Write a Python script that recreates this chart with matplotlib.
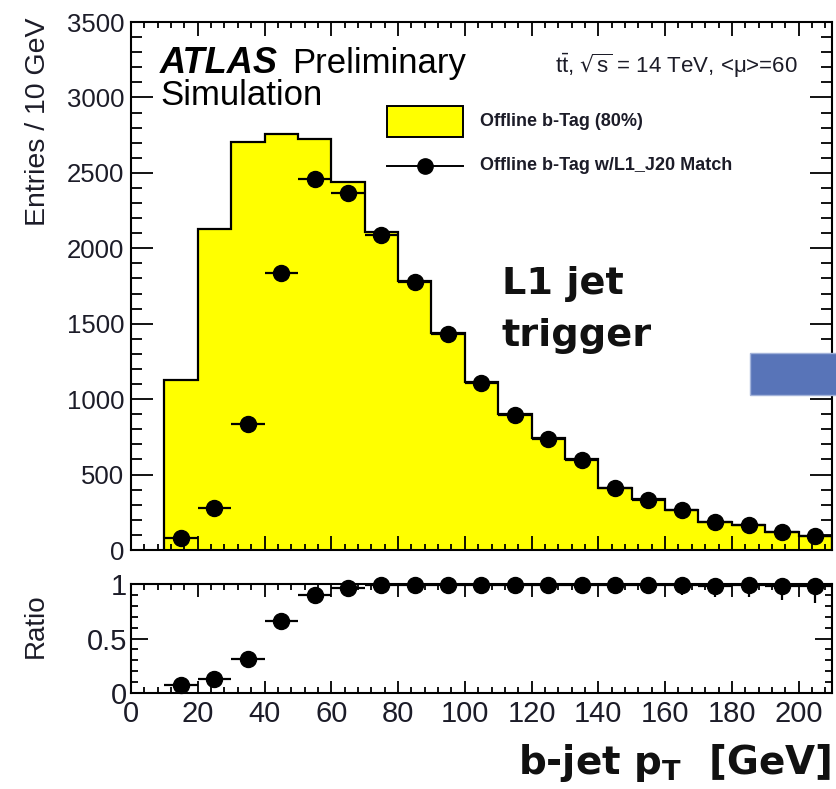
import numpy as np
import matplotlib.pyplot as plt
from matplotlib.patches import Rectangle
from matplotlib.lines import Line2D
from matplotlib.ticker import MultipleLocator, FixedLocator, FixedFormatter

plt.rcParams['font.family'] = ['Liberation Sans', 'DejaVu Sans']
plt.rcParams['mathtext.default'] = 'regular'

# b-jet pT bins (GeV)
bin_edges = [10, 20, 30, 40, 50, 60, 70, 80, 90, 100, 110,
             120, 130, 140, 150, 160, 170, 180, 190, 200, 210]
bin_centers = [15, 25, 35, 45, 55, 65, 75, 85, 95, 105,
               115, 125, 135, 145, 155, 165, 175, 185, 195, 205]

# offline b-tagged jets (80% WP)
offline = [1130, 2130, 2705, 2756, 2727, 2439, 2110, 1782, 1439, 1113,
           901, 741, 602, 414, 336, 266, 188, 166, 122, 93]
# offline b-tagged jets matched to L1_J20
matched = [77, 281, 837, 1837, 2461, 2364, 2090, 1775, 1434, 1110,
           895, 738, 598, 412, 334, 263, 185, 164, 120, 91]
# matched / offline
ratio = [0.07, 0.13, 0.31, 0.665, 0.90, 0.965, 0.99, 0.995, 0.995, 0.995,
         0.995, 0.995, 0.99, 0.995, 0.995, 0.99, 0.985, 0.99, 0.985, 0.98]
ratio_err = [0.03, 0.02, 0.02, 0.02, 0.02, 0.02, 0.03, 0.03, 0.04, 0.04,
             0.05, 0.05, 0.06, 0.07, 0.08, 0.09, 0.10, 0.11, 0.13, 0.15]

W, H = 837, 789
def fx(x): return x / W
def fy(y): return 1 - y / H

txt = '#1c1c28'
fig = plt.figure(figsize=(W / 100, H / 100), dpi=100)
ax = fig.add_axes([fx(131), fy(550), fx(832) - fx(131), fy(22) - fy(550)])
rax = fig.add_axes([fx(131), fy(693), fx(832) - fx(131), fy(584) - fy(693)])

# main panel
ax.stairs(offline, bin_edges, fill=True, facecolor='#ffff00',
          edgecolor='black', linewidth=1.6, zorder=1)
ax.errorbar(bin_centers, matched, xerr=5, fmt='o', color='black',
            markersize=11.5, elinewidth=1.6, capsize=0, zorder=3)
ax.set_xlim(0, 210)
ax.set_ylim(0, 3500)
ax.xaxis.set_major_locator(MultipleLocator(20))
ax.xaxis.set_minor_locator(MultipleLocator(4))
ax.yaxis.set_major_locator(MultipleLocator(500))
ax.yaxis.set_minor_locator(MultipleLocator(100))
ax.tick_params(axis='both', which='both', direction='in', top=True, right=True,
               labelbottom=False, colors='black', labelcolor=txt, labelsize=18.5)
ax.tick_params(axis='y', which='major', length=16, width=1.3, pad=5)
ax.tick_params(axis='y', which='minor', length=8, width=1.3)
ax.tick_params(axis='x', which='major', length=10, width=1.3)
ax.tick_params(axis='x', which='minor', length=4, width=1.3)
for s in ax.spines.values():
    s.set_linewidth(1.5)

# ratio panel
rax.errorbar(bin_centers, ratio, xerr=5, yerr=ratio_err, fmt='o', color='black',
             markersize=11.5, elinewidth=1.6, capsize=0, zorder=3)
for ln in rax.lines:
    ln.set_clip_on(False)
rax.set_xlim(0, 210)
rax.set_ylim(0, 1)
rax.xaxis.set_major_locator(MultipleLocator(20))
rax.xaxis.set_minor_locator(MultipleLocator(4))
rax.yaxis.set_major_locator(FixedLocator([0, 0.5, 1]))
rax.yaxis.set_major_formatter(FixedFormatter(['0', '0.5', '1']))
rax.yaxis.set_minor_locator(MultipleLocator(0.1))
rax.tick_params(axis='both', which='both', direction='in', top=True, right=True,
                colors='black', labelcolor=txt)
rax.tick_params(axis='y', which='major', length=12, width=1.3, pad=3)
rax.tick_params(axis='y', which='minor', length=5, width=1.3)
rax.tick_params(axis='x', which='major', length=9, width=1.3, pad=5)
rax.tick_params(axis='x', which='minor', length=4, width=1.3)
for lab in rax.get_xticklabels() + rax.get_yticklabels():
    lab.set_family(['Liberation Sans Narrow', 'Liberation Sans'])
    lab.set_fontsize(21)
for s in rax.spines.values():
    s.set_linewidth(1.5)

# axis titles
fig.text(fx(38), fy(18), 'Entries / 10 GeV', rotation=90, ha='center', va='top',
         fontsize=20.5, color=txt)
fig.text(fx(36), fy(626), 'Ratio', rotation=90, ha='center', va='center',
         fontsize=20, color=txt)
fig.text(fx(831), fy(774), 'b-jet p$_T$  [GeV]', ha='right', va='baseline',
         fontsize=28, family='DejaVu Sans', fontweight='bold', color='#111111')

# labels inside the main panel
fig.text(fx(160), fy(73), 'ATLAS', fontsize=26, fontweight='bold', style='italic',
         color='black', va='baseline')
fig.text(fx(292), fy(73), 'Preliminary', fontsize=25, color='black', va='baseline')
fig.text(fx(160), fy(105), 'Simulation', fontsize=25, color='black', va='baseline')
fig.text(fx(555), fy(73), r'$t\bar{t}$, $\sqrt{s}$ = 14 TeV, <$\mu$>=60',
         fontsize=16, color=txt, va='baseline')
fig.text(fx(502), fy(294), 'L1 jet', fontsize=27.5, family='DejaVu Sans',
         fontweight='bold', color='#111111', va='baseline')
fig.text(fx(502), fy(346), 'trigger', fontsize=27.5, family='DejaVu Sans',
         fontweight='bold', color='#111111', va='baseline')

# legend
fig.add_artist(Rectangle((fx(387), fy(137)), fx(463) - fx(387), fy(106) - fy(137),
                         transform=fig.transFigure, facecolor='#ffff00',
                         edgecolor='black', linewidth=1.4))
fig.add_artist(Line2D([fx(387), fx(463)], [fy(166), fy(166)], color='black',
                      linewidth=1.4, transform=fig.transFigure))
fig.add_artist(Line2D([fx(425)], [fy(166)], marker='o', markersize=11,
                      color='black', transform=fig.transFigure))
fig.text(fx(480), fy(121), 'Offline b-Tag (80%)', fontsize=13, fontweight='bold',
         color=txt, va='center')
fig.text(fx(480), fy(166), 'Offline b-Tag w/L1_J20 Match', fontsize=13,
         fontweight='bold', color=txt, va='center')

# slide arrow stub on the right edge
fig.add_artist(Rectangle((fx(750), fy(395)), fx(840) - fx(750), fy(353) - fy(395),
                         transform=fig.transFigure, facecolor='#5874b8',
                         edgecolor='#a3b3da', linewidth=1.0))

fig.savefig('out.png', dpi=100)
